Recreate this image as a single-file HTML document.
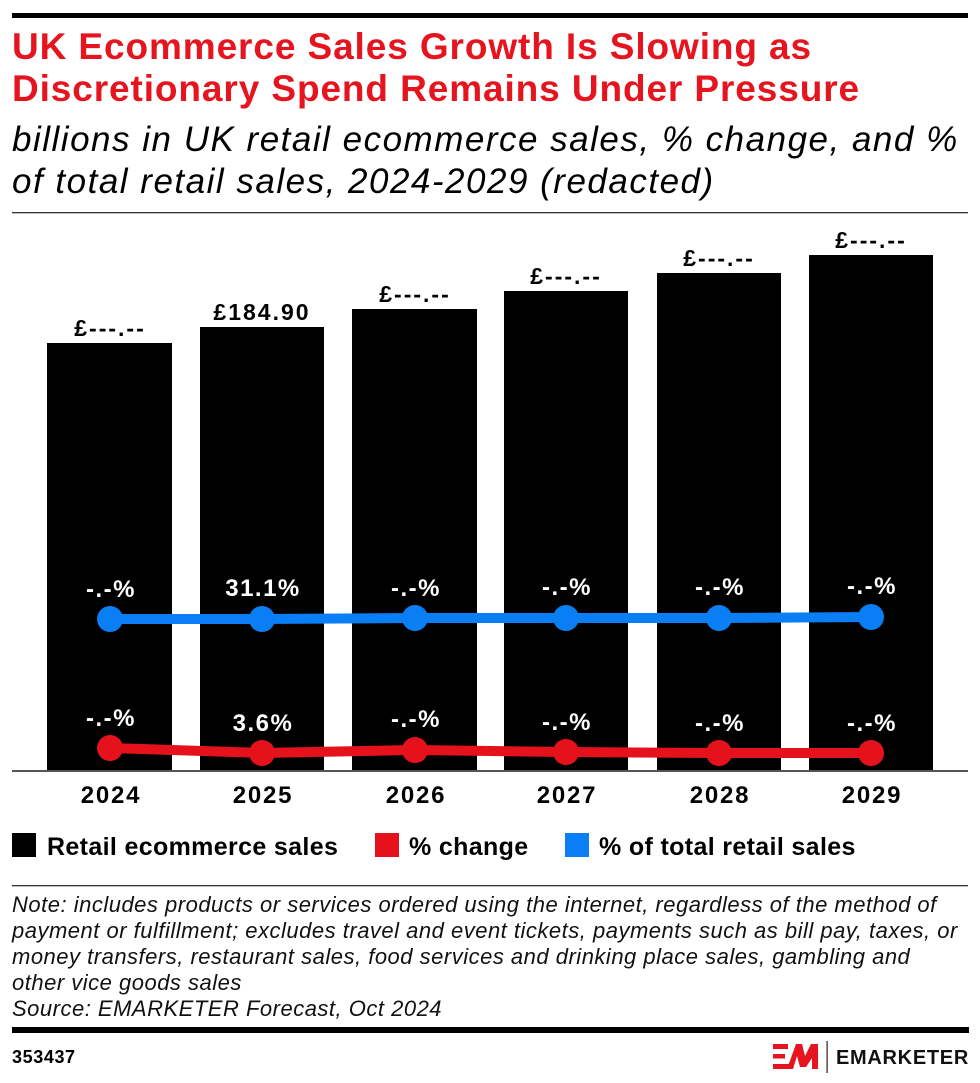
<!DOCTYPE html>
<html>
<head>
<meta charset="utf-8">
<style>
  html, body { margin:0; padding:0; background:#fff; }
  body { width:980px; height:1083px; position:relative; overflow:hidden; font-family:"Liberation Sans", Arial, sans-serif; }
  .abs { position:absolute; white-space:nowrap; }
  .title { left:12px; top:26px; font-size:37px; line-height:42px; font-weight:bold; color:#e5141e; letter-spacing:0.9px; }
  .sub { left:12px; top:119px; font-size:35px; line-height:42px; font-style:italic; color:#000; letter-spacing:1.5px; }
  .note { left:12px; top:892px; font-size:22px; line-height:26px; font-style:italic; color:#111; letter-spacing:0.5px; }
  svg { position:absolute; left:0; top:0; }
</style>
</head>
<body>
<svg width="980" height="1083" viewBox="0 0 980 1083" xmlns="http://www.w3.org/2000/svg">
  <rect x="12" y="13" width="956" height="5" fill="#000"/>
  <rect x="12" y="212" width="956" height="1.3" fill="#333"/>

  <g fill="#000">
    <rect x="47" y="343" width="125" height="428"/>
    <rect x="200" y="327" width="124" height="444"/>
    <rect x="352" y="309" width="125" height="462"/>
    <rect x="504" y="291" width="124" height="480"/>
    <rect x="657" y="273" width="124" height="498"/>
    <rect x="809" y="255" width="124" height="516"/>
  </g>
  <rect x="12" y="770" width="956" height="2" fill="#555"/>

  <g font-family="Liberation Sans, Arial, sans-serif" font-weight="bold" font-size="23" fill="#000" text-anchor="middle" letter-spacing="2">
    <text x="110" y="336">£---.--</text>
    <text x="262" y="320">£184.90</text>
    <text x="415" y="302">£---.--</text>
    <text x="566" y="284">£---.--</text>
    <text x="719" y="266">£---.--</text>
    <text x="871" y="248">£---.--</text>
  </g>

  <polyline points="110,619 262,619 415,618 566,618 719,618 871,617" fill="none" stroke="#0a7ff5" stroke-width="10" stroke-linejoin="round"/>
  <g fill="#0a7ff5">
    <circle cx="110" cy="619" r="13"/>
    <circle cx="262" cy="619" r="13"/>
    <circle cx="415" cy="618" r="13"/>
    <circle cx="566" cy="618" r="13"/>
    <circle cx="719" cy="618" r="13"/>
    <circle cx="871" cy="617" r="13"/>
  </g>
  <polyline points="110,748 262,753 415,750 566,752 719,753 871,753" fill="none" stroke="#e5121c" stroke-width="10" stroke-linejoin="round"/>
  <g fill="#e5121c">
    <circle cx="110" cy="748" r="13"/>
    <circle cx="262" cy="753" r="13"/>
    <circle cx="415" cy="750" r="13"/>
    <circle cx="566" cy="752" r="13"/>
    <circle cx="719" cy="753" r="13"/>
    <circle cx="871" cy="753" r="13"/>
  </g>

  <g font-family="Liberation Sans, Arial, sans-serif" font-weight="bold" font-size="24" fill="#fff" text-anchor="middle" letter-spacing="1.5">
    <text x="111" y="597">-.-%</text>
    <text x="263" y="596">31.1%</text>
    <text x="416" y="596">-.-%</text>
    <text x="567" y="595">-.-%</text>
    <text x="720" y="595">-.-%</text>
    <text x="872" y="594">-.-%</text>
    <text x="111" y="726">-.-%</text>
    <text x="263" y="731">3.6%</text>
    <text x="416" y="727">-.-%</text>
    <text x="567" y="730">-.-%</text>
    <text x="720" y="731">-.-%</text>
    <text x="872" y="731">-.-%</text>
  </g>

  <g font-family="Liberation Sans, Arial, sans-serif" font-weight="bold" font-size="24" fill="#000" text-anchor="middle" letter-spacing="1.8">
    <text x="111" y="803">2024</text>
    <text x="263" y="803">2025</text>
    <text x="416" y="803">2026</text>
    <text x="567" y="803">2027</text>
    <text x="720" y="803">2028</text>
    <text x="872" y="803">2029</text>
  </g>

  <rect x="12" y="833" width="24" height="24" fill="#000"/>
  <rect x="375" y="833" width="24" height="24" fill="#e5121c"/>
  <rect x="565" y="833" width="24" height="24" fill="#0a7ff5"/>
  <g font-family="Liberation Sans, Arial, sans-serif" font-weight="bold" font-size="25" fill="#000" letter-spacing="0.35">
    <text x="47" y="855">Retail ecommerce sales</text>
    <text x="409" y="855">% change</text>
    <text x="599" y="855">% of total retail sales</text>
  </g>

  <rect x="12" y="885" width="956" height="1.3" fill="#333"/>
  <rect x="12" y="1027" width="957" height="6" fill="#000"/>

  <text x="12" y="1063" font-family="Liberation Sans, Arial, sans-serif" font-weight="bold" font-size="18" fill="#000" letter-spacing="0.6">353437</text>

  <g fill="#e5141e">
    <rect x="773" y="1044" width="15" height="5"/>
    <rect x="773" y="1054" width="12" height="4.5"/>
    <rect x="773" y="1064" width="16" height="5"/>
    <polygon points="787,1069 796,1044 802,1044 805,1056 811,1044 818,1044 818,1069 812,1069 812,1058 806,1067 800,1067 797,1056 793,1069"/>
  </g>
  <rect x="826.5" y="1041" width="1.2" height="32" fill="#222"/>
  <text x="836" y="1064" font-family="Liberation Sans, Arial, sans-serif" font-weight="bold" font-size="20" fill="#111" letter-spacing="0.7">EMARKETER</text>
</svg>

<div class="abs title">UK Ecommerce Sales Growth Is Slowing as<br>Discretionary Spend Remains Under Pressure</div>
<div class="abs sub">billions in UK retail ecommerce sales, % change, and %<br>of total retail sales, 2024-2029 (redacted)</div>
<div class="abs note">Note: includes products or services ordered using the internet, regardless of the method of<br>payment or fulfillment; excludes travel and event tickets, payments such as bill pay, taxes, or<br>money transfers, restaurant sales, food services and drinking place sales, gambling and<br>other vice goods sales<br>Source: EMARKETER Forecast, Oct 2024</div>
</body>
</html>
